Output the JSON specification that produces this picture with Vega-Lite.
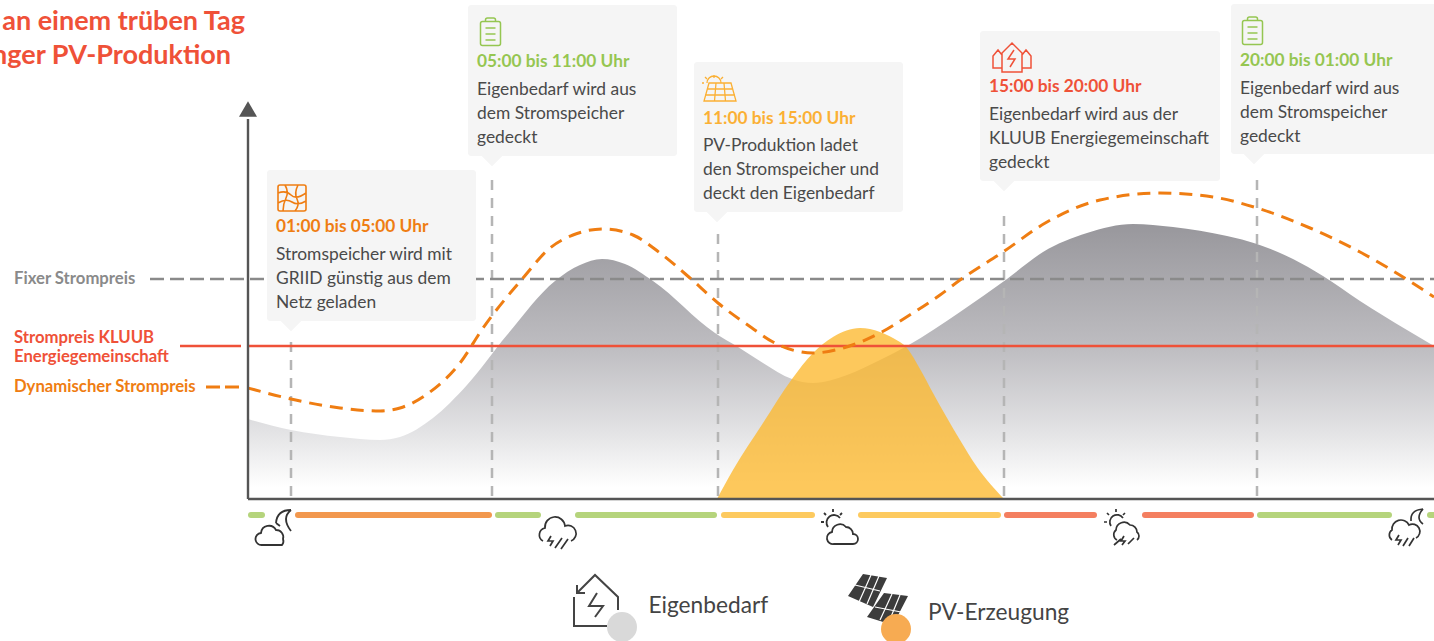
{
"$schema":"https://vega.github.io/schema/vega-lite/v6.json",
"width":1434,"height":641,"padding":0,"autosize":{"type":"none"},"background":"#ffffff",
"config":{"view":{"stroke":null},"text":{"font":"Lato"}},
"resolve":{"scale":{"color":"independent"}},
"encoding":{
"x":{"field":"t","type":"quantitative","axis":null,"scale":{"domain":[-24.8,118.6],"nice":false,"zero":false}},
"y":{"field":"v","type":"quantitative","axis":null,"scale":{"domain":[-14.2,49.9],"nice":false,"zero":false}}
},
"layer":[
{"data":{"values":[{"t":0,"v":8},{"t":4.3,"v":6.9},{"t":9.2,"v":6.2},{"t":13.2,"v":5.9},{"t":15.2,"v":6.2},{"t":18.5,"v":8.1},{"t":21.9,"v":11.4},{"t":25.9,"v":16.4},{"t":30.7,"v":21.8},{"t":33.2,"v":23.4},{"t":35.4,"v":24},{"t":37.7,"v":23.5},{"t":40.5,"v":21.8},{"t":46.7,"v":16.6},{"t":49,"v":15.2},{"t":51.5,"v":13.6},{"t":54.4,"v":12},{"t":56.5,"v":11.6},{"t":59.9,"v":12.4},{"t":63.2,"v":13.9},{"t":65.9,"v":15.3},{"t":71.2,"v":18.7},{"t":75.9,"v":22},{"t":79.5,"v":24.7},{"t":83.9,"v":26.6},{"t":88.5,"v":27.5},{"t":92.5,"v":27.2},{"t":97.9,"v":26.3},{"t":100.9,"v":25.5},{"t":104.5,"v":24},{"t":107.5,"v":22.3},{"t":111.2,"v":19.8},{"t":115.9,"v":16.9},{"t":118.6,"v":15.3}]},
"mark":{"type":"area","interpolate":"monotone","fill":{"gradient":"linear","x1":0,"y1":0,"x2":0,"y2":1,"stops":[{"offset":0,"color":"#98979c"},{"offset":0.45,"color":"#bebdc1"},{"offset":0.75,"color":"#e2e2e4"},{"offset":0.96,"color":"#ffffff"},{"offset":1,"color":"#ffffff"}]}},
"encoding":{"y2":{"datum":0}}},
{"data":{"values":[{"t":46.9,"v":0},{"t":48.5,"v":2.9},{"t":51.5,"v":7.6},{"t":54.4,"v":12},{"t":56.5,"v":14.6},{"t":58.5,"v":16.2},{"t":61.2,"v":17.1},{"t":63.2,"v":16.7},{"t":64.5,"v":16.1},{"t":65.9,"v":15.1},{"t":67.2,"v":13},{"t":68.5,"v":10.6},{"t":71.2,"v":5.9},{"t":72.9,"v":3.2},{"t":75.6,"v":0}]},
"mark":{"type":"area","interpolate":"monotone","fill":"#fdb92e","fillOpacity":0.78},
"encoding":{"y2":{"datum":0}}},
{"data":{"values":[{"t":4.3,"v":0.3,"v2":16.1},{"t":24.4,"v":0.3,"v2":31.9},{"t":47,"v":0.3,"v2":26.9},{"t":75.6,"v":0.3,"v2":29.1},{"t":100.9,"v":0.3,"v2":32.4}]},
"mark":{"type":"rule","stroke":"#b5b5b5","strokeWidth":2.5,"strokeDash":[10,8]},
"encoding":{"y2":{"field":"v2"}}},
{"data":{"values":[{"t":-9.8,"t2":118.6,"v":22}]},
"mark":{"type":"rule","stroke":"#8a8a8a","strokeWidth":2.3,"strokeDash":[14,6]},
"encoding":{"x2":{"field":"t2"}}},
{"data":{"values":[{"t":1.9,"t2":22.8,"v":32.9,"v2":17.8},{"t":22,"t2":42.9,"v":49.4,"v2":34.3},{"t":44.6,"t2":65.5,"v":43.7,"v2":28.7},{"t":73.2,"t2":97.2,"v":46.8,"v2":31.8},{"t":98.3,"t2":120,"v":49.5,"v2":34.5}]},
"mark":{"type":"rect","fill":"#f5f5f5","cornerRadius":3},
"encoding":{"x2":{"field":"t2"},"y2":{"field":"v2"}}},
{"data":{"values":[{"t":4.3,"v":17.3},{"t":24.4,"v":33.8},{"t":46.9,"v":28.2},{"t":75.6,"v":31.3},{"t":100.6,"v":34}]},
"mark":{"type":"point","shape":"M-1,-0.5L1,-0.5L0,0.5Z","filled":true,"fill":"#f5f5f5","opacity":1,"size":441,"strokeWidth":0}},
{"data":{"values":[{"t":-6.8,"t2":-0.7,"v":15.3},{"t":0,"t2":118.6,"v":15.3}]},
"mark":{"type":"rule","stroke":"#ef5138","strokeWidth":2.4},
"encoding":{"x2":{"field":"t2"}}},
{"data":{"values":[{"t":0,"v":11.1},{"t":4.3,"v":10},{"t":9.2,"v":9.1},{"t":13.2,"v":8.8},{"t":15.2,"v":9.1},{"t":18.2,"v":10.7},{"t":21.2,"v":13.6},{"t":23.5,"v":17.1},{"t":27.5,"v":22.1},{"t":30.2,"v":25.1},{"t":32.5,"v":26.4},{"t":35.5,"v":27},{"t":38.5,"v":26.4},{"t":41.2,"v":24.6},{"t":44.2,"v":22.1},{"t":47,"v":19.6},{"t":50.4,"v":17.1},{"t":52.5,"v":15.7},{"t":56.5,"v":14.6},{"t":59.5,"v":15.1},{"t":63.2,"v":16.6},{"t":65.7,"v":18.1},{"t":69.2,"v":20.4},{"t":71.2,"v":21.9},{"t":75.5,"v":24.7},{"t":79.9,"v":27.7},{"t":85.2,"v":29.9},{"t":91.2,"v":30.6},{"t":96.5,"v":30.2},{"t":100.9,"v":29.1},{"t":106.2,"v":27.1},{"t":111.2,"v":24.7},{"t":115.5,"v":22.2},{"t":118.6,"v":20.2}]},
"mark":{"type":"line","interpolate":"monotone","stroke":"#ef7d12","strokeWidth":3,"strokeDash":[13,8]},
"encoding":{}},
{"data":{"values":[{"t":-4.2,"t2":-0.8,"v":11.2}]},
"mark":{"type":"rule","stroke":"#ef7d12","strokeWidth":3,"strokeDash":[14,5]},
"encoding":{"x2":{"field":"t2"}}},
{"data":{"values":[{"t":0,"t2":118.6,"v":0}]},
"mark":{"type":"rule","stroke":"#555555","strokeWidth":2.4},
"encoding":{"x2":{"field":"t2"}}},
{"data":{"values":[{"t":0,"v":0,"v2":38}]},
"mark":{"type":"rule","stroke":"#555555","strokeWidth":2.4},
"encoding":{"y2":{"field":"v2"}}},
{"data":{"values":[{"t":0,"v":39}]},
"mark":{"type":"point","shape":"triangle-up","filled":true,"fill":"#555555","opacity":1,"size":324,"strokeWidth":0}},
{"data":{"values":[{"t":0.3,"t2":1.4,"v":-1.6,"tarif":"Speicher"},{"t":5,"t2":24.1,"v":-1.6,"tarif":"Netz"},{"t":25,"t2":29,"v":-1.6,"tarif":"Speicher"},{"t":33,"t2":46.6,"v":-1.6,"tarif":"Speicher"},{"t":47.6,"t2":56.4,"v":-1.6,"tarif":"PV"},{"t":61.3,"t2":75,"v":-1.6,"tarif":"PV"},{"t":75.9,"t2":84.6,"v":-1.6,"tarif":"Gemeinschaft"},{"t":89.7,"t2":100.3,"v":-1.6,"tarif":"Gemeinschaft"},{"t":101.2,"t2":114.1,"v":-1.6,"tarif":"Speicher"},{"t":118.2,"t2":118.6,"v":-1.6,"tarif":"Speicher"}]},
"mark":{"type":"rule","strokeWidth":6,"strokeCap":"round"},
"encoding":{"x2":{"field":"t2"},"color":{"field":"tarif","type":"nominal","legend":null,"scale":{"domain":["Speicher","Netz","PV","Gemeinschaft"],"range":["#b5d47c","#f2984e","#fdca5f","#f47f60"]}}}},
{"data":{"values":[{"t":4.4,"v":30.1}]},
"mark":{"type":"point","size":4,"stroke":"#ef7d12","strokeWidth":1.6,"opacity":1,"filled":false,"shape":"M-12,-13H12Q14,-13 14,-11V11Q14,13 12,13H-12Q-14,13 -14,11V-11Q-14,-13 -12,-13Z M-14,-5Q-6,-8 -1,-3T14,-5 M-14,5Q-6,0 0,4T14,3 M-7,-13Q-3,-6 -6,0T-9,13 M6,-13Q2,-5 5,1T3,13"}},
{"data":{"values":[{"t":24.25,"v":46.7},{"t":100.45,"v":46.8}]},
"mark":{"type":"point","size":4,"stroke":"#95c651","strokeWidth":1.5,"opacity":1,"filled":false,"shape":"M-8,-10.5H8Q10,-10.5 10,-8.5V11.5Q10,13.5 8,13.5H-8Q-10,13.5 -10,11.5V-8.5Q-10,-10.5 -8,-10.5Z M-5,-10.5V-12Q-5,-14 -3,-14H3Q5,-14 5,-12V-10.5 M-5,-4H5 M-5,2H5 M-5,8H5"}},
{"data":{"values":[{"t":47.2,"v":41.1}]},
"mark":{"type":"point","size":4,"stroke":"#fbb034","strokeWidth":1.3,"opacity":1,"filled":false,"shape":"M-11,-5H11L16,13H-16Z M-13,1H13 M-15,7H15 M-4,-5L-5.5,13 M4,-5L5.5,13 M-13,-5A7,7 0 0 1 1,-5 M-6,-10V-13 M-13,-9L-15,-11 M1,-9L3,-11 M-16,-5H-18"}},
{"data":{"values":[{"t":76.4,"v":44.1}]},
"mark":{"type":"point","size":4,"stroke":"#ef5138","strokeWidth":1.5,"opacity":1,"filled":false,"shape":"M-10,14V-5L0,-15L10,-5V14Z M-10,-3L-14,-8L-19,-2V10H-10 M10,-3L14,-8L19,-2V10H10 M2,-8L-4,1H3L-2,9"}},
{"data":{"values":[{"t":2.5,"v":-2.8}]},
"mark":{"type":"point","size":4,"stroke":"#333333","strokeWidth":1.8,"opacity":1,"filled":false,"shape":"M-11,18A6,6 0 0 1 -12,6A8,8 0 0 1 3,3A7,7 0 0 1 10,12A6,6 0 0 1 9,18Z M18,-17Q4,-17 3,-4 M18,-17Q8,-9 18,4 M3,-4L7,-1"}},
{"data":{"values":[{"t":30.8,"v":-3.3}]},
"mark":{"type":"point","size":4,"stroke":"#333333","strokeWidth":1.7,"opacity":1,"filled":false,"shape":"M-13,9A7,7 0 0 1 -11,-4A10,10 0 0 1 9,-6A8,8 0 0 1 15,9 M-5,4L-8,9H-3L-6,14 M-1,16L6,6 M5,17L12,7"}},
{"data":{"values":[{"t":59.1,"v":-2.8}]},
"mark":{"type":"point","size":4,"stroke":"#333333","strokeWidth":1.8,"opacity":1,"filled":false,"shape":"M-5,17A6,6 0 0 1 -7,5A8,8 0 0 1 7,0A7,7 0 0 1 14,7A5,5 0 0 1 14,17Z M-11,0A7,7 0 0 1 1,-9 M-6,-18V-15 M-15,-14L-13,-12 M3,-14L1,-12 M-18,-5H-15"}},
{"data":{"values":[{"t":87.4,"v":-2.8}]},
"mark":{"type":"point","size":4,"stroke":"#333333","strokeWidth":1.7,"opacity":1,"filled":false,"shape":"M-5,13A6,6 0 0 1 -6,3A8,8 0 0 1 8,-2A7,7 0 0 1 15,5A5,5 0 0 1 15,13 M-11,-1A7,7 0 0 1 1,-9 M-6,-18V-15 M-15,-14L-13,-12 M3,-14L1,-12 M-18,-5H-15 M-8,18L-1,12 M2,9L-1,14H3L0,18 M6,17L12,11"}},
{"data":{"values":[{"t":115.7,"v":-2.8}]},
"mark":{"type":"point","size":4,"stroke":"#333333","strokeWidth":1.7,"opacity":1,"filled":false,"shape":"M-13,13A6,6 0 0 1 -13,3A9,9 0 0 1 4,-2A7,7 0 0 1 11,11 M-6,8L-9,13H-4L-7,18 M-2,19L3,11 M4,19L9,11 M18,-18Q5,-17 6,-6 M18,-18Q10,-9 18,-3"}},
{"data":{"values":[{"t":34.8,"v":-10.1}]},
"mark":{"type":"point","size":4,"stroke":"#444444","strokeWidth":2,"opacity":1,"filled":false,"shape":"M-22,-3V26H11 M-19,-7L-1,-25L22,-3V10 M-19,-15V-7H-11 M1,-7L-7,6H7L-1,17"}},
{"data":{"values":[{"t":63,"v":-10.1}]},
"mark":{"type":"point","size":4,"filled":true,"fill":"#3c3c3c","opacity":1,"strokeWidth":0,"shape":"M-15,-26L9,-22L-5,7L-30,-4Z M6,-7L30,-4L15,25L-11,17Z"}},
{"data":{"values":[{"t":63,"v":-10.1}]},
"mark":{"type":"point","size":4,"stroke":"#ffffff","strokeWidth":1.2,"opacity":1,"filled":false,"shape":"M-23,-15L2,-9 M-7,-25L-19,2 M1,-24L-11,4 M-3,7L23,12 M14,-6L2,20 M22,-5L10,24"}},
{"data":{"values":[{"t":37.4,"v":-12.8,"art":"Eigenbedarf"},{"t":64.8,"v":-13,"art":"PV-Erzeugung"}]},
"mark":{"type":"point","shape":"circle","filled":true,"opacity":1,"size":900,"strokeWidth":0},
"encoding":{"color":{"field":"art","type":"nominal","legend":null,"scale":{"domain":["Eigenbedarf","PV-Erzeugung"],"range":["#d9d9d9","#f7ab52"]}}}},
{"data":{"values":[{"t":-0.3,"v":46.9,"text":"an einem trüben Tag"},{"t":-1.7,"v":43.5,"text":"nger PV-Produktion"}]},
"mark":{"type":"text","align":"right","baseline":"alphabetic","fontSize":27,"fontWeight":"bold","fill":"#ef5138"},
"encoding":{"text":{"field":"text"}}},
{"data":{"values":[{"t":2.8,"v":26.7,"text":"01:00 bis 05:00 Uhr","tarif":"Netz"},{"t":22.9,"v":43.2,"text":"05:00 bis 11:00 Uhr","tarif":"Speicher"},{"t":45.5,"v":37.5,"text":"11:00 bis 15:00 Uhr","tarif":"PV"},{"t":74.1,"v":40.7,"text":"15:00 bis 20:00 Uhr","tarif":"Gemeinschaft"},{"t":99.2,"v":43.3,"text":"20:00 bis 01:00 Uhr","tarif":"Speicher"}]},
"mark":{"type":"text","align":"left","baseline":"alphabetic","fontSize":17.3,"fontWeight":"bold"},
"encoding":{"text":{"field":"text"},"color":{"field":"tarif","type":"nominal","legend":null,"scale":{"domain":["Netz","Speicher","PV","Gemeinschaft"],"range":["#ef7d12","#95c651","#fbb034","#ef5138"]}}}},
{"data":{"values":[{"t":-23.4,"v":15.6,"text":"Strompreis KLUUB","tarif":"Gemeinschaft"},{"t":-23.4,"v":13.7,"text":"Energiegemeinschaft","tarif":"Gemeinschaft"},{"t":-23.4,"v":10.7,"text":"Dynamischer Strompreis","tarif":"Netz"},{"t":-23.4,"v":21.5,"text":"Fixer Strompreis","tarif":"Fix"}]},
"mark":{"type":"text","align":"left","baseline":"alphabetic","fontSize":16.7,"fontWeight":"bold"},
"encoding":{"text":{"field":"text"},"color":{"field":"tarif","type":"nominal","legend":null,"scale":{"domain":["Netz","Gemeinschaft","Fix"],"range":["#ef7d12","#ef5138","#8a8a8a"]}}}},
{"data":{"values":[{"t":2.8,"v":23.9,"text":"Stromspeicher wird mit"},{"t":2.8,"v":21.5,"text":"GRIID günstig aus dem"},{"t":2.8,"v":19.1,"text":"Netz geladen"},{"t":22.9,"v":40.4,"text":"Eigenbedarf wird aus"},{"t":22.9,"v":38,"text":"dem Stromspeicher"},{"t":22.9,"v":35.6,"text":"gedeckt"},{"t":45.5,"v":34.8,"text":"PV-Produktion ladet"},{"t":45.5,"v":32.4,"text":"den Stromspeicher und"},{"t":45.5,"v":30,"text":"deckt den Eigenbedarf"},{"t":74.1,"v":37.9,"text":"Eigenbedarf wird aus der"},{"t":74.1,"v":35.5,"text":"KLUUB Energiegemeinschaft"},{"t":74.1,"v":33.1,"text":"gedeckt"},{"t":99.2,"v":40.5,"text":"Eigenbedarf wird aus"},{"t":99.2,"v":38.1,"text":"dem Stromspeicher"},{"t":99.2,"v":35.7,"text":"gedeckt"}]},
"mark":{"type":"text","align":"left","baseline":"alphabetic","fontSize":17.4,"fill":"#4a4a4a"},
"encoding":{"text":{"field":"text"}}},
{"data":{"values":[{"t":40.05,"v":-11.4,"text":"Eigenbedarf"},{"t":68,"v":-12.1,"text":"PV-Erzeugung"}]},
"mark":{"type":"text","align":"left","baseline":"alphabetic","fontSize":22.7,"fill":"#444444"},
"encoding":{"text":{"field":"text"}}}
]
}
